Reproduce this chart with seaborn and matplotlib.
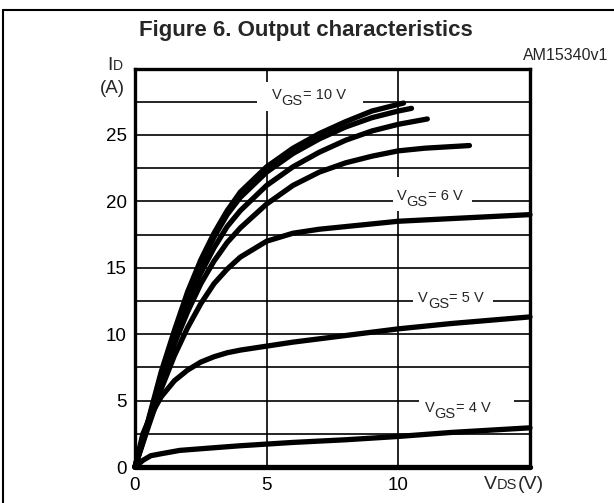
import numpy as np
import pandas as pd
import matplotlib
matplotlib.use('Agg')
import matplotlib.pyplot as plt
from matplotlib.lines import Line2D
from matplotlib.patches import Rectangle
import seaborn as sns

# Output characteristics (VDS in V, ID in A)
vds_10 = [0, 0.5, 1, 1.5, 2, 2.5, 3, 3.5, 4, 5, 6, 7, 8, 9, 10.2]
id_10 = [0, 3.5, 7.2, 10.3, 13.2, 15.6, 17.6, 19.3, 20.7, 22.6, 24.0, 25.1, 26.0, 26.8, 27.4]

vds_9 = [0, 0.5, 1, 1.5, 2, 2.5, 3, 3.5, 4, 5, 6, 7, 8, 9, 10, 10.5]
id_9 = [0, 3.4, 7.0, 10.1, 12.9, 15.3, 17.3, 19.0, 20.3, 22.2, 23.6, 24.7, 25.6, 26.3, 26.8, 27.0]

vds_8 = [0, 0.5, 1, 1.5, 2, 2.5, 3, 3.5, 4, 5, 6, 7, 8, 9, 10, 11.1]
id_8 = [0, 3.3, 6.8, 9.8, 12.4, 14.6, 16.5, 18.1, 19.3, 21.2, 22.6, 23.7, 24.6, 25.3, 25.8, 26.2]

vds_7 = [0, 0.5, 1, 1.5, 2, 2.5, 3, 3.5, 4, 5, 6, 7, 8, 9, 10, 11, 12.7]
id_7 = [0, 3.2, 6.5, 9.3, 11.7, 13.8, 15.5, 16.9, 18.0, 19.8, 21.2, 22.2, 22.9, 23.4, 23.8, 24.0, 24.2]

vds_6 = [0, 0.5, 1, 1.5, 2, 2.5, 3, 3.5, 4, 5, 6, 7, 8, 10, 12, 15]
id_6 = [0, 3.0, 5.9, 8.4, 10.5, 12.3, 13.8, 14.9, 15.8, 17.0, 17.6, 17.9, 18.1, 18.5, 18.7, 19.0]

vds_5 = [0, 0.3, 0.6, 1.0, 1.5, 2, 2.5, 3, 3.5, 4, 5, 6, 8, 10, 12, 15]
id_5 = [0, 2.5, 3.9, 5.3, 6.5, 7.3, 7.9, 8.3, 8.6, 8.8, 9.1, 9.4, 9.9, 10.4, 10.8, 11.3]

vds_4 = [0, 0.3, 0.6, 1, 1.7, 3, 4, 6, 8, 10, 12, 15]
id_4 = [0, 0.5, 0.85, 1.0, 1.25, 1.45, 1.6, 1.85, 2.05, 2.3, 2.6, 2.95]

vds_3 = [0, 5, 10, 15]
id_3 = [0, 0, 0, 0]

curves = {10: (vds_10, id_10), 9: (vds_9, id_9), 8: (vds_8, id_8), 7: (vds_7, id_7),
          6: (vds_6, id_6), 5: (vds_5, id_5), 4: (vds_4, id_4), 3: (vds_3, id_3)}

rows = []
for vgs, (xs, ys) in curves.items():
    for x, y in zip(xs, ys):
        rows.append({'vgs': vgs, 'vds': x, 'id': y})
df = pd.DataFrame(rows)

sns.set_style('white')
plt.rcParams['font.family'] = ['Liberation Sans', 'DejaVu Sans']

fig = plt.figure(figsize=(6.14, 5.03), dpi=100)
ax = fig.add_axes([135 / 614, 1 - 467 / 503, 395 / 614, 398.5 / 503])

sns.lineplot(data=df, x='vds', y='id', units='vgs', estimator=None, sort=False,
             color='black', linewidth=3.8, solid_capstyle='round', clip_on=False,
             zorder=4, ax=ax, legend=False)

ax.set_xlim(0, 15)
ax.set_ylim(0, 30)
ax.set_xticks([0, 5, 10, 15])
ax.set_xticklabels(['0', '5', '10', ''])
ax.set_yticks([0, 5, 10, 15, 20, 25, 30])
ax.set_yticklabels(['0', '5', '10', '15', '20', '25', ''])
ax.set_yticks(np.arange(2.5, 30, 5), minor=True)
ax.tick_params(axis='both', which='both', length=0, labelsize=13.5, colors='black')
ax.tick_params(axis='x', pad=7)
ax.tick_params(axis='y', pad=6)
ax.set_axisbelow(True)
ax.grid(which='major', axis='both', color='black', linewidth=1.2)
ax.grid(which='minor', axis='y', color='black', linewidth=1.2)
ax.set_xlabel('')
ax.set_ylabel('')
for s in ax.spines.values():
    s.set_color('black')
    s.set_linewidth(2.4)

# white patches breaking the grid behind the VGS labels
for (x0, x1, y0, y1) in [(4.62, 8.67, 26.8, 29.0), (9.8, 12.8, 19.3, 21.8),
                         (10.56, 13.6, 11.5, 13.8), (10.8, 14.4, 3.6, 5.6)]:
    ax.add_patch(Rectangle((x0, y0), x1 - x0, y1 - y0, facecolor='white',
                           edgecolor='none', zorder=1))


def rich(x, y, pieces, coords):
    s, fs, dy = pieces[0]
    t = ax.annotate(s, xy=(x, y), xycoords=coords, xytext=(0, dy),
                    textcoords='offset points', fontsize=fs, va='baseline',
                    ha='left', zorder=5, annotation_clip=False)
    for s, fs, dy in pieces[1:]:
        t = ax.annotate(s, xy=(1, y), xycoords=(t, coords), xytext=(0, dy),
                        textcoords='offset points', fontsize=fs, va='baseline',
                        ha='left', zorder=5, annotation_clip=False)


vgs_labels = [('10', 5.19, 27.73), ('6', 9.94, 20.1), ('5', 10.76, 12.45), ('4', 11.01, 4.16)]
for v, x, y in vgs_labels:
    rich(x, y, [('V', 10.5, 0), ('GS', 10.5, -4.5), ('= %s V' % v, 10.5, 0)], 'data')

# axis titles
rich(107, 503 - 70, [('I', 14, 0), ('D', 10, 0)], 'figure pixels')
ax.annotate('(A)', xy=(100, 503 - 93), xycoords='figure pixels', fontsize=13.5,
            va='baseline', ha='left', annotation_clip=False)
rich(484, 503 - 489, [('V', 14, 0), ('DS', 10.5, 0), ('(V)', 14, 0)], 'figure pixels')

fig.text(306 / 614, 1 - 36 / 503, 'Figure 6. Output characteristics',
         ha='center', va='baseline', fontsize=16, fontweight='bold')
fig.text(523 / 614, 1 - 60 / 503, 'AM15340v1', ha='left', va='baseline', fontsize=11.5)

# frame around the figure
fig.add_artist(Line2D([3 / 614, 3 / 614], [0, 1 - 9.8 / 503], color='black', linewidth=1.5))
fig.add_artist(Line2D([3 / 614, 1], [1 - 9.8 / 503, 1 - 9.8 / 503], color='black', linewidth=1.5))

fig.savefig('out.png', dpi=100)
plt.close(fig)
